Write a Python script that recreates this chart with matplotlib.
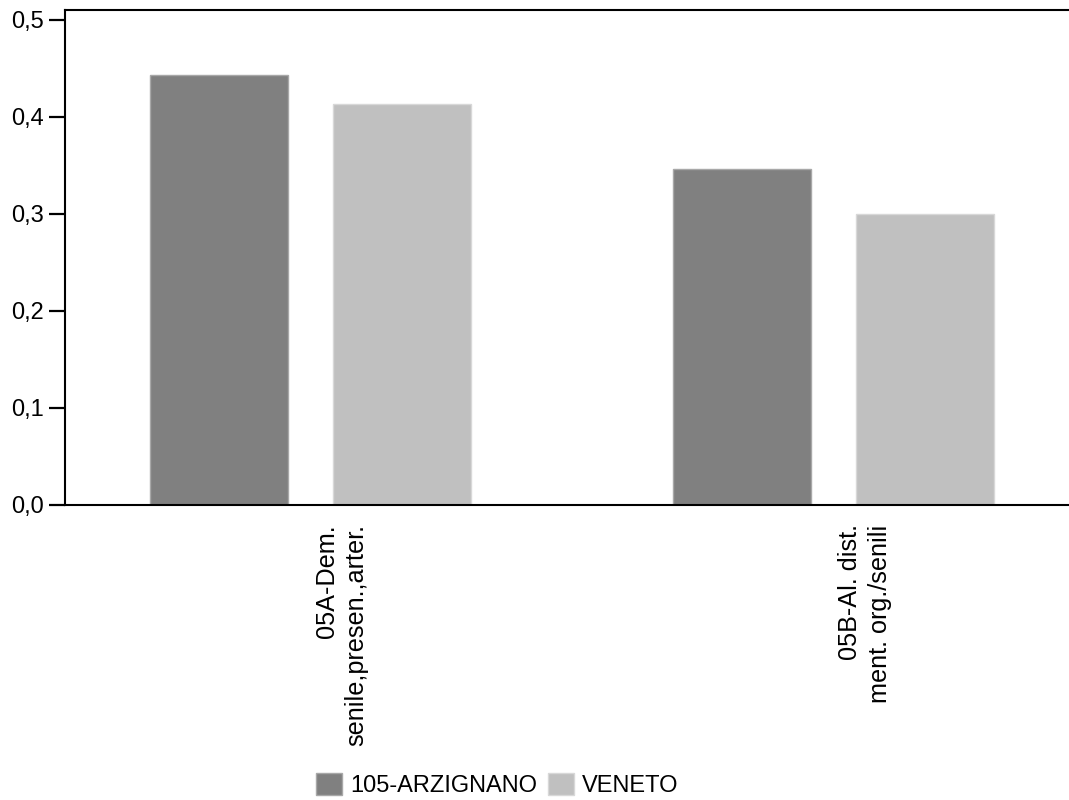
"""
Grouped bar chart: 105-ARZIGNANO vs VENETO for two diagnosis groups.
"""

import numpy as np
import matplotlib as mpl
mpl.use('Agg')
import matplotlib.pyplot as plt
from matplotlib.transforms import ScaledTranslation

# Data
categories = ['05A-Dem.\nsenile,presen.,arter.', '05B-Al. dist.\nment. org./senili']
series_names = ['105-ARZIGNANO', 'VENETO']
arzignano = [0.443, 0.346]
veneto = [0.413, 0.300]
y_ticks = [0.0, 0.1, 0.2, 0.3, 0.4, 0.5]

plt.rcParams['font.family'] = ['Liberation Sans', 'DejaVu Sans']

fig = plt.figure(figsize=(10.69, 8.0), dpi=100)
ax = fig.add_axes([65 / 1069, 295 / 800, 1 - 65 / 1069, (505 - 10) / 800])

x = np.arange(len(categories))
width = 0.2636
offset = 0.1748

ax.bar(x - offset, arzignano, width, color='#808080', edgecolor='#a8a8a8',
       linewidth=1.0, label=series_names[0])
ax.bar(x + offset, veneto, width, color='#c0c0c0', edgecolor='#d8d8d8',
       linewidth=1.0, label=series_names[1])

ax.set_xlim(-0.469, 1.449)
ax.set_ylim(0, 0.5103)

# y axis, comma decimal labels
ax.set_yticks(y_ticks)
ax.set_yticklabels([f'{v:.1f}'.replace('.', ',') for v in y_ticks])
ax.tick_params(axis='y', length=11.5, width=1.6, pad=4, labelsize=17,
               color='black', direction='out')

# x axis: rotated category labels below the axis, a bit right of group centre
ax.set_xticks(x)
ax.set_xticklabels(categories, rotation=90, fontsize=18.2, ha='center',
                   va='top', multialignment='right', linespacing=1.3)
ax.tick_params(axis='x', length=0, pad=14)
shift = ScaledTranslation(31 / 100, 0, fig.dpi_scale_trans)
for lbl in ax.get_xticklabels():
    lbl.set_transform(lbl.get_transform() + shift)

for side in ['left', 'bottom', 'top']:
    ax.spines[side].set_linewidth(1.5)
    ax.spines[side].set_color('black')
ax.spines['right'].set_visible(False)

fig.legend(loc='center', bbox_to_anchor=(497.5 / 1069, 1 - 785 / 800),
           ncol=2, frameon=False, fontsize=17, handlelength=1.1,
           handleheight=1.1, handletextpad=0.35, columnspacing=0.45,
           borderpad=0, borderaxespad=0)

fig.savefig('out.png', dpi=100)
plt.close(fig)
